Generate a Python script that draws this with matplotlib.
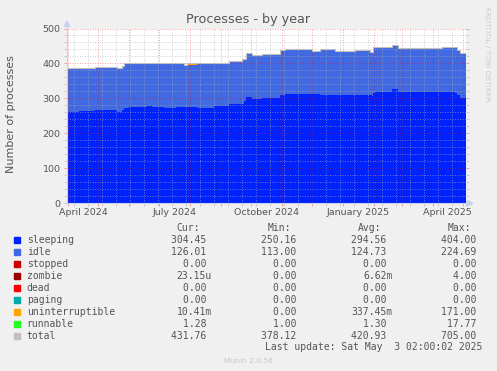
import numpy as np
import pandas as pd
import matplotlib
matplotlib.use('Agg')
import matplotlib.pyplot as plt
import matplotlib.dates as mdates
from matplotlib.ticker import MultipleLocator
from matplotlib.patches import Polygon, Rectangle
from matplotlib.lines import Line2D

## Data (days counted from the left edge of the graph)
days = [0, 12, 28, 50, 55, 57, 62, 80, 85, 97,
        109, 117, 120, 130, 147, 162, 175, 177, 179, 185,
        195, 199, 214, 219, 246, 254, 269, 289, 304, 306,
        307, 309, 326, 332, 341, 376, 389, 391, 394, 396, 400]
sleeping = [262, 263.5, 266, 260, 268, 273, 276, 279, 276, 273,
            276, 275, 276, 274, 278, 283, 283, 292, 304, 297,
            300, 300, 311, 314, 314, 311, 311, 310, 311, 306,
            316, 319, 328, 319, 317, 318, 316, 311, 302, 302, 304.5]
idle = [124.2, 123.2, 122.2, 124.7, 124.7, 125.7, 122.7, 119.0, 122.7, 125.7,
        123.5, 120.7, 120.2, 124.7, 121.5, 120.5, 128.7, 119.7, 123.2, 125.7,
        124.7, 125.3, 125.7, 125.0, 121.7, 126.7, 122.0, 126.7, 120.7, 125.7,
        129.7, 127.2, 121.5, 124.7, 123.2, 125.0, 129.7, 125.7, 128.0, 125.7, 126.0]
uninterruptible = [0, 0, 0, 0, 0, 0, 0, 0, 0, 0,
                   0, 0, 2.5, 0, 0, 3, 0, 0, 0, 0,
                   2, 0, 0, 0, 0, 2, 0, 0, 0, 0,
                   0, 0, 0, 0, 1.5, 0, 0, 0, 0, 0, 0]
runnable = [1.3, 1.3, 1.8, 1.3, 1.3, 1.3, 1.3, 3.0, 1.3, 1.3,
            3.0, 1.3, 1.3, 1.3, 2.5, 1.5, 1.3, 1.3, 1.3, 1.3,
            1.3, 1.3, 1.3, 2.0, 1.3, 1.3, 4.0, 1.3, 1.3, 1.3,
            1.3, 1.3, 2.5, 1.3, 1.3, 4.0, 1.3, 1.3, 1.3, 1.3, 1.3]
stopped = np.zeros(len(days))
zombie = np.zeros(len(days))
dead = np.zeros(len(days))
paging = np.zeros(len(days))
total = [387.5, 388, 390, 386, 394, 400, 400, 401, 400, 400,
         402.5, 397, 400, 400, 402, 408, 413, 413, 428.5, 424,
         428, 426.6, 438, 441, 437, 441, 437, 438, 433, 433,
         447, 447.5, 452, 445, 443, 447, 447, 438, 431, 429, 431.8]

names = ['sleeping', 'idle', 'stopped', 'zombie', 'dead', 'paging',
         'uninterruptible', 'runnable', 'total']
colors = ['#0022ff', '#4169e1', '#cc0000', '#990000', '#ff0000', '#00aaaa',
          '#ffa500', '#22ff22', '#c0c0c0']
cur_vals = ['304.45 ', '126.01 ', '0.00 ', '23.15u', '0.00 ', '0.00 ', '10.41m', '1.28 ', '431.76 ']
min_vals = ['250.16 ', '113.00 ', '0.00 ', '0.00 ', '0.00 ', '0.00 ', '0.00 ', '1.00 ', '378.12 ']
avg_vals = ['294.56 ', '124.73 ', '0.00 ', '6.62m', '0.00 ', '0.00 ', '337.45m', '1.30 ', '420.93 ']
max_vals = ['404.00 ', '224.69 ', '0.00 ', '4.00 ', '0.00 ', '0.00 ', '171.00 ', '17.77 ', '705.00 ']
x_labels = ['April 2024', 'July 2024', 'October 2024', 'January 2025', 'April 2025']
x_label_months = ['2024-04-01', '2024-07-01', '2024-10-01', '2025-01-01', '2025-04-01']

W, H = 497, 371
TXT = '#555555'
MONO = 'DejaVu Sans Mono'


def fx(px):
    return px / W


def fy(py):
    return 1 - py / H


fig = plt.figure(figsize=(W / 100, H / 100), dpi=100, facecolor='#f0f0f0')
ax = fig.add_axes([fx(67), fy(203.3), 399 / W, 174.8 / H])
ax.set_facecolor('white')

t0 = mdates.date2num(np.datetime64('2024-03-30T12:00'))
x = t0 + np.array(days, dtype=float)

ax.stackplot(x, sleeping, idle, stopped, zombie, dead, paging, uninterruptible, runnable,
             colors=colors[:8], step='post', linewidth=0, zorder=1)
ax.step(x, total, where='post', color='#c0c0c0', lw=0.8, zorder=3)

ax.set_xlim(t0, t0 + 400)
ax.set_ylim(0, 500)

# grille
months = mdates.date2num(pd.date_range('2024-04-01', '2025-05-01', freq='MS').values)
weeks = mdates.date2num(pd.date_range('2024-04-07', '2025-05-04', freq='14D').values)
ax.set_xticks(months)
ax.set_xticks(weeks, minor=True)
ax.set_yticks(range(0, 501, 100))
ax.yaxis.set_minor_locator(MultipleLocator(20))
ax.set_axisbelow(False)
ax.grid(which='minor', color='#b0b0b0', alpha=0.55, lw=0.72, ls=(0, (1, 1.5)))
ax.grid(which='major', color='#ff0000', alpha=0.35, lw=0.72, ls=(0, (1, 1.5)))

ax.tick_params(which='major', direction='out', length=2.5, width=0.7, color='#f0a0a0',
               labelsize=6.8, labelcolor=TXT, pad=2)
ax.tick_params(which='minor', direction='out', length=2, width=0.7, color='#cccccc')
ax.tick_params(axis='y', which='both', right=True)
ax.tick_params(axis='x', labelbottom=False)
for s in ax.spines.values():
    s.set_visible(False)

for lab, m in zip(x_labels, x_label_months):
    pos = mdates.date2num(np.datetime64(m)) + 15
    ax.text(pos, -0.052, lab, transform=ax.get_xaxis_transform(), ha='center', va='center',
            fontsize=6.8, color=TXT)

# axes et flèches
axis_c = '#c8d0f0'
fig.add_artist(Line2D([fx(67), fx(67)], [fy(203.3), fy(24)], color=axis_c, lw=0.8))
fig.add_artist(Line2D([fx(64), fx(469)], [fy(203.3), fy(203.3)], color=axis_c, lw=0.8))
fig.add_artist(Polygon([(fx(64.3), fy(26.5)), (fx(69.7), fy(26.5)), (fx(67), fy(21.3))],
                       closed=True, color=axis_c, transform=fig.transFigure))
fig.add_artist(Polygon([(fx(467.5), fy(200.6)), (fx(467.5), fy(206)), (fx(472.8), fy(203.3))],
                       closed=True, color=axis_c, transform=fig.transFigure))

# textes
fig.text(fx(248), fy(20), 'Processes - by year', ha='center', va='center', fontsize=9.2, color=TXT)
fig.text(fx(11), fy(114.5), 'Number of processes', rotation=90, ha='center', va='center',
         fontsize=8, color=TXT)
fig.text(fx(487), fy(53.5), 'RRDTOOL / TOBI OETIKER', rotation=270, ha='center', va='center',
         fontsize=5.4, color='#cccccc')
fig.text(fx(248), fy(360.7), 'Munin 2.0.56', ha='center', va='center', fontsize=5.4, color='#c8c8c8')

# légende en tableau
for hx, h in zip([200, 291, 381, 471], ['Cur:', 'Min:', 'Avg:', 'Max:']):
    fig.text(fx(hx), fy(228), h, ha='right', va='center', family=MONO, fontsize=7, color=TXT)

for i, name in enumerate(names):
    y = 240 + 12 * i
    fig.add_artist(Rectangle((fx(14), fy(y + 2.7)), 5.5 / W, 5.5 / H, color=colors[i],
                             transform=fig.transFigure))
    fig.text(fx(26.7), fy(y), name, ha='left', va='center', family=MONO, fontsize=7, color=TXT)
    for cx, vals in zip([212, 302.5, 392.5, 482.5], [cur_vals, min_vals, avg_vals, max_vals]):
        fig.text(fx(cx), fy(y), vals[i], ha='right', va='center', family=MONO, fontsize=7, color=TXT)

fig.text(fx(482.7), fy(347), 'Last update: Sat May  3 02:00:02 2025', ha='right', va='center',
         family=MONO, fontsize=7, color=TXT)

fig.savefig('out.png', dpi=100, facecolor=fig.get_facecolor())
